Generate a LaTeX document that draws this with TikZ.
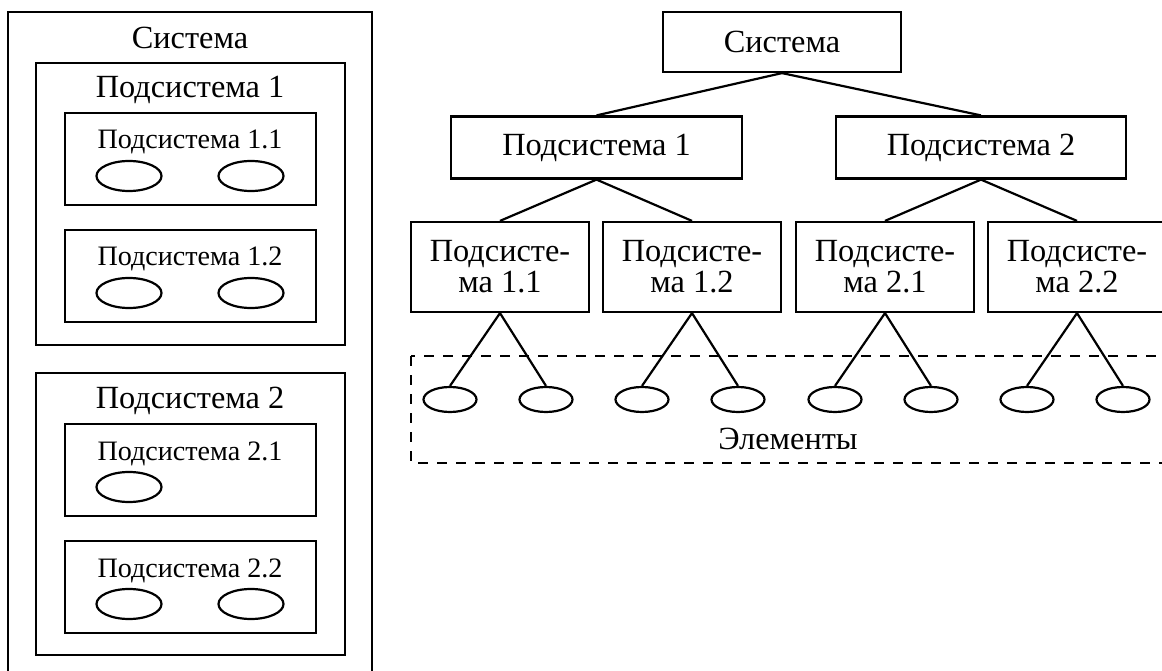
\documentclass[tikz,border=0pt]{standalone}
\usepackage{fontspec}
\setmainfont{Liberation Serif}
\usepackage{tikz}
\usetikzlibrary{shapes.geometric,positioning}
\newcommand\sysfont{\fontsize{23}{22}\selectfont}
\newcommand\subfont{\fontsize{20}{22}\selectfont}

\begin{document}
\begin{tikzpicture}[x=0.25mm, y=-0.25mm, line width=0.55mm,
  box/.style={draw, inner sep=0pt, align=center, font=\sysfont},
  leaf/.style={box, minimum width=44.5mm, minimum height=22.5mm},
  elem/.style={draw, ellipse, inner sep=0pt, minimum width=13.25mm, minimum height=6.25mm},
  blob/.style={draw, ellipse, inner sep=0pt, minimum width=16.25mm, minimum height=7.5mm},
  title/.style={anchor=base, font=\sysfont},
  subtitle/.style={anchor=base, font=\subfont}]
\useasboundingbox (0,0) rectangle (1162,671);
\clip (0,0) rectangle (1162,671);

% ---------- left: the system as nested boxes
\draw (8,12) rectangle (372,700);
\node[title] (lsys) at (190,49) {Система};
\foreach \s/\y in {1/63, 2/373}{
  \draw (36,\y) rectangle (345,\y+282);
  \node[title] (lsub\s) at (190,\y+35) {Подсистема \s};}
\foreach \i/\t/\y/\k in {11/1.1/113/2, 12/1.2/230/2, 21/2.1/424/1, 22/2.2/541/2}{
  \draw (65,\y) rectangle (316,\y+92);
  \node[subtitle] (lsub\i) at (190,\y+36) {Подсистема \t};
  \node[blob] (la\i) at (129,\y+63) {};
  \ifnum\k=2 \node[blob] (lb\i) at (251,\y+63) {};\fi}

% ---------- right: the same system as a tree
\node[box, minimum width=59.5mm, minimum height=15mm] (sys) at (782,42) {Система};
\node[box, minimum width=72.75mm, minimum height=15.5mm] (sub1) at (596.5,147.5) {Подсистема 1};
\node[box, minimum width=72.5mm, minimum height=15.5mm] (sub2) at (981,147.5) {Подсистема 2};
\draw (sys.south) -- (sub1.north);
\draw (sys.south) -- (sub2.north);

% ---------- elements in the dashed frame
\draw[dash pattern=on 2.5mm off 2.25mm] (411,356) rectangle (1180,463);
\node[title] (elems) at (788,449) {Элементы};

\foreach \i/\p/\x/\t in {11/sub1/500/1.1, 12/sub1/692/1.2, 21/sub2/885/2.1, 22/sub2/1077/2.2}{
  \node[leaf] (s\i) at (\x,267) {Подсисте-\\ма \t};
  \draw (\p.south) -- (s\i.north);
  \node[elem] (ea\i) at (\x-50,399.5) {};
  \node[elem] (eb\i) at (\x+46,399.5) {};
  \draw (s\i.south) -- (ea\i.north);
  \draw (s\i.south) -- (eb\i.north);}
\end{tikzpicture}
\end{document}
